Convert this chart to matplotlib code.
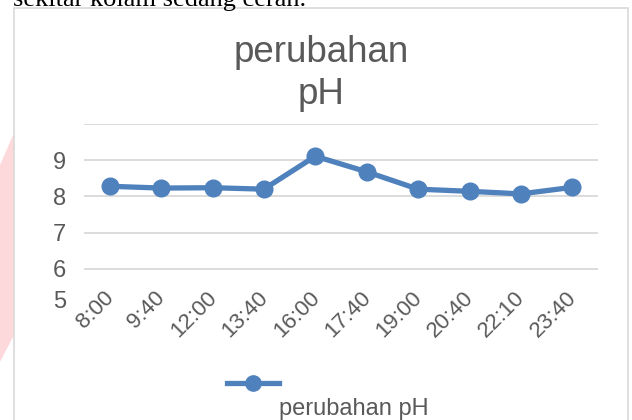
import matplotlib
matplotlib.use("Agg")
import matplotlib.pyplot as plt
from matplotlib.lines import Line2D
from matplotlib.patches import Rectangle, Polygon
import matplotlib.transforms as mtransforms

plt.rcParams['font.family'] = ['Liberation Sans', 'DejaVu Sans']

times = ["8:00", "9:40", "12:00", "13:40", "16:00", "17:40", "19:00", "20:40", "22:10", "23:40"]
ph = [8.28, 8.23, 8.24, 8.20, 9.11, 8.68, 8.20, 8.14, 8.07, 8.25]
y_ticks = [5, 6, 7, 8, 9]
grid_vals = [6, 7, 8, 9, 10]
series_name = "perubahan pH"
title_lines = ["perubahan", "pH"]
header_text = "sekitar kolam sedang cerah."

W, H = 632, 420
fig = plt.figure(figsize=(W / 100, H / 100), dpi=100)
fig.patch.set_facecolor("white")

def fx(px):
    return px / W

def fy(py):
    return 1 - py / H

# pink watermark shape on the left edge
fig.add_artist(Polygon([(fx(0), fy(165)), (fx(14), fy(133)), (fx(14), fy(335)), (fx(0), fy(362))],
                       closed=True, transform=fig.transFigure, facecolor="#fdd9dc", edgecolor="none", zorder=0))

# chart border
fig.add_artist(Rectangle((fx(14), fy(425)), fx(628) - fx(14), fy(8) - fy(425),
                         transform=fig.transFigure, facecolor="white", edgecolor="#d9d9d9",
                         linewidth=1.2, zorder=1))

# cut-off document text at top
fig.text(fx(13), fy(6), header_text, family="Liberation Serif", fontsize=19,
         color="black", ha="left", va="baseline", zorder=2)

ax = fig.add_axes([fx(84), fy(305), fx(598) - fx(84), fy(124) - fy(305)])
ax.set_zorder(3)
ax.patch.set_alpha(0)

color = "#4f81bd"
x = list(range(len(times)))
ax.plot(x, ph, color=color, linewidth=3.8, marker="o", markersize=12, zorder=3)

for g in grid_vals:
    ax.axhline(g, color="#d9d9d9", linewidth=1.3, zorder=1)

ax.set_xlim(-0.5, len(times) - 0.5)
ax.set_ylim(5, 10)
ax.set_yticks(y_ticks)
ax.set_yticklabels([str(v) for v in y_ticks], fontsize=17, color="#595959")
ax.set_xticks(x)
ax.set_xticklabels(times, fontsize=16, color="#595959", rotation=45,
                   ha="right", va="center", rotation_mode="anchor")
ax.tick_params(axis="y", length=0, pad=13)
ax.tick_params(axis="x", length=0, pad=0)
offset = mtransforms.ScaledTranslation(1 / 100, 10 / 100, fig.dpi_scale_trans)
for lbl in ax.get_xticklabels():
    lbl.set_transform(lbl.get_transform() + offset)
# lowest y label sits slightly above its value line
ylbls = ax.get_yticklabels()
ylbls[0].set_transform(ylbls[0].get_transform() +
                       mtransforms.ScaledTranslation(0, 6 / 100, fig.dpi_scale_trans))
for s in ax.spines.values():
    s.set_visible(False)

fig.text(fx(321), fy(52), title_lines[0], fontsize=26.5, color="#595959", ha="center", va="center")
fig.text(fx(321), fy(95), title_lines[1], fontsize=26.5, color="#595959", ha="center", va="center")

# legend
fig.add_artist(Line2D([fx(227), fx(279)], [fy(383), fy(383)], transform=fig.transFigure,
                      color=color, linewidth=3.8, zorder=4))
fig.add_artist(Line2D([fx(253)], [fy(383)], transform=fig.transFigure, color=color,
                      marker="o", markersize=11, linestyle="none", zorder=4))
fig.text(fx(279), fy(409), series_name, fontsize=17, color="#595959", ha="left", va="center", zorder=4)

fig.savefig("out.png", dpi=100, facecolor="white")
